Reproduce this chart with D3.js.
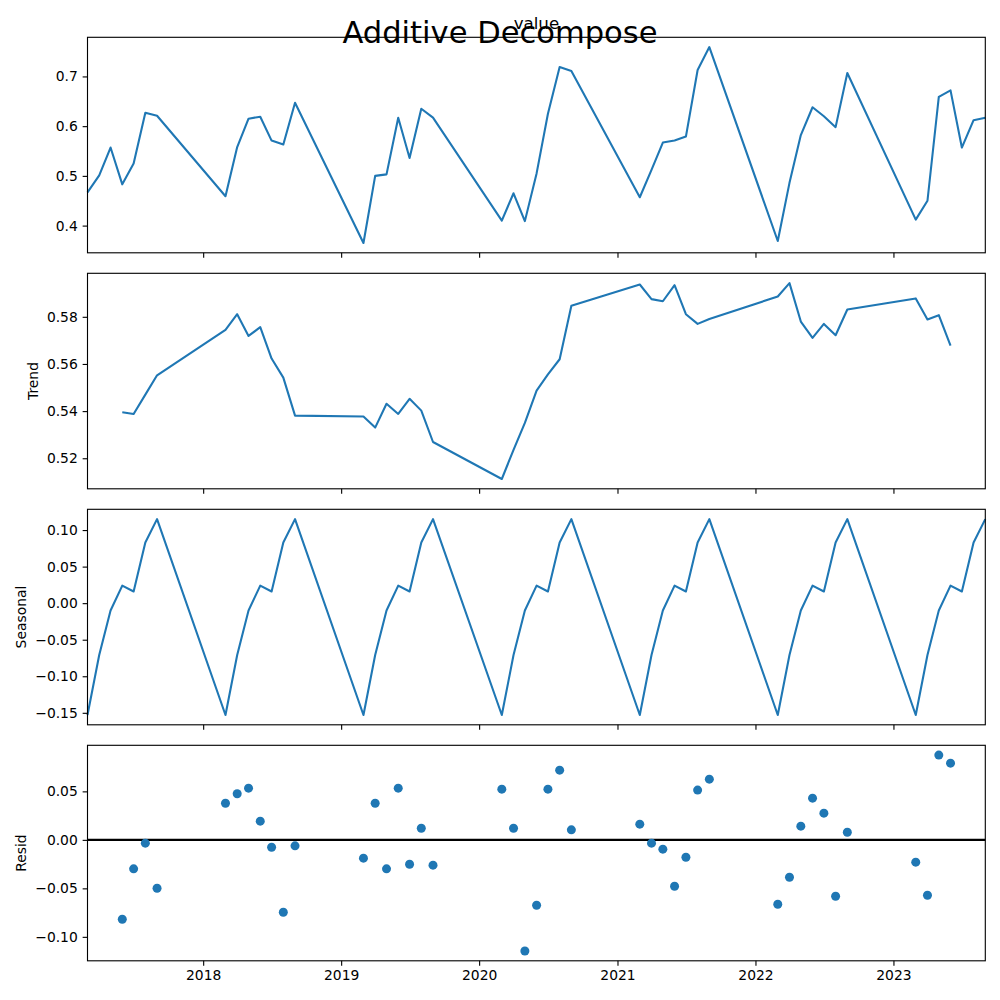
<!DOCTYPE html>
<html>
<head>
<meta charset="utf-8">
<script src="https://cdn.jsdelivr.net/npm/d3@7"></script>
<style>
  body { margin: 0; background: #fff; }
  svg { display: block; font-family: "DejaVu Sans", sans-serif; }
</style>
</head>
<body>
<div id="vizContainer"></div>
<script>
// Monthly samples, March to September of each year
const years = [2017, 2018, 2019, 2020, 2021, 2022, 2023];
const months = [2, 3, 4, 5, 6, 7, 8]; // Mar..Sep (0-based)

// Observed series ("value"), one row per year, Mar..Sep
const observed = [
  0.467, 0.501, 0.557, 0.483, 0.525, 0.627, 0.621,
  0.459, 0.558, 0.615, 0.619, 0.571, 0.563, 0.647,
  0.365, 0.500, 0.503, 0.617, 0.536, 0.635, 0.617,
  0.410, 0.465, 0.409, 0.505, 0.625, 0.719, 0.711,
  0.457, 0.512, 0.567, 0.571, 0.579, 0.713, 0.759,
  0.369, 0.486, 0.582, 0.638, 0.620, 0.598, 0.707,
  0.412, 0.450, 0.659, 0.672, 0.557, 0.612, 0.617
];

// Trend (centered moving average, undefined at the ends)
const trend = [
  null,   null,   null,   0.5395, 0.5388, 0.5470, 0.5552,
  0.5745, 0.5811, 0.5719, 0.5756, 0.5623, 0.5542, 0.5381,
  0.5377, 0.5330, 0.5431, 0.5388, 0.5452, 0.5402, 0.5269,
  0.5112, 0.5236, 0.5350, 0.5487, 0.5556, 0.5620, 0.5847,
  0.5937, 0.5875, 0.5866, 0.5934, 0.5811, 0.5770, 0.5791,
  0.5886, 0.5943, 0.5780, 0.5711, 0.5770, 0.5722, 0.5831,
  0.5878, 0.5789, 0.5807, 0.5678, null,   null,   null
];

// Seasonal component by month (Mar..Sep), same every year
const seasonalByMonth = [-0.153, -0.071, -0.010, 0.024, 0.016, 0.083, 0.115];

// Residuals
const resid = [
  null,    null,    null,    -0.0819, -0.0299, -0.0034, -0.0499,
  0.0378,  0.0475,  0.0533,  0.0193,  -0.0076, -0.0746, -0.0062,
  -0.0189, 0.0378,  -0.0299, 0.0533,  -0.0251, 0.0120,  -0.0261,
  0.0523,  0.0120,  -0.1146, -0.0674, 0.0523,  0.0719,  0.0103,
  0.0162,  -0.0034, -0.0096, -0.0478, -0.0179, 0.0513,  0.0626,
  -0.0664, -0.0385, 0.0141,  0.0430,  0.0275,  -0.0581, 0.0079,
  -0.0230, -0.0571, 0.0874,  0.0791,  null,    null,    null
];

// Y tick labels per panel
const observedTicks = [0.4, 0.5, 0.6, 0.7];
const trendTicks = [0.52, 0.54, 0.56, 0.58];
const seasonalTicks = [-0.15, -0.10, -0.05, 0.00, 0.05, 0.10];
const residTicks = [-0.10, -0.05, 0.00, 0.05];

const dates = years.flatMap(y => months.map(m => new Date(Date.UTC(y, m, 1))));
const seasonal = years.flatMap(() => seasonalByMonth);

const W = 1000, H = 1000;
const left = 87.5, right = 985.3, panelH = 215.5;
const tops = [37.3, 273.3, 509.3, 745.3];
const blue = '#1f77b4';
const pt = 100 / 72;

const svg = d3.select('#vizContainer').append('svg')
  .attr('width', W).attr('height', H);

const x = d3.scaleUtc().domain(d3.extent(dates)).range([left, right]);

const panels = [
  {values: observed, ticks: observedTicks, fmt: d3.format('.1f'), label: null, kind: 'line'},
  {values: trend, ticks: trendTicks, fmt: d3.format('.2f'), label: 'Trend', kind: 'line'},
  {values: seasonal, ticks: seasonalTicks, fmt: d3.format('.2f'), label: 'Seasonal', kind: 'line'},
  {values: resid, ticks: residTicks, fmt: d3.format('.2f'), label: 'Resid', kind: 'dots'}
];

panels.forEach((p, i) => {
  const top = tops[i], bottom = top + panelH;
  const pts = dates.map((d, k) => ({d, v: p.values[k]})).filter(e => e.v != null);
  const [lo, hi] = d3.extent(pts, e => e.v);
  const pad = (hi - lo) * 0.05;
  const y = d3.scaleLinear().domain([lo - pad, hi + pad]).range([bottom, top]);

  const g = svg.append('g');

  if (p.kind === 'dots') {
    // zero reference line behind the markers
    g.append('line')
      .attr('x1', left).attr('x2', right)
      .attr('y1', y(0)).attr('y2', y(0))
      .attr('stroke', '#000').attr('stroke-width', 1.5 * pt);
    g.selectAll('circle').data(pts).enter().append('circle')
      .attr('cx', e => x(e.d)).attr('cy', e => y(e.v))
      .attr('r', 4.5)
      .attr('fill', blue);
  } else {
    g.append('path')
      .datum(pts)
      .attr('fill', 'none')
      .attr('stroke', blue)
      .attr('stroke-width', 1.5 * pt)
      .attr('stroke-linejoin', 'round')
      .attr('d', d3.line().x(e => x(e.d)).y(e => y(e.v)));
  }

  // axes
  const xAxis = d3.axisBottom(x)
    .ticks(d3.utcYear.every(1))
    .tickSize(3.5 * pt).tickPadding(3.5 * pt)
    .tickFormat(i === 3 ? d3.utcFormat('%Y') : () => '');
  const xg = g.append('g').attr('transform', `translate(0,${bottom})`).call(xAxis);

  const yAxis = d3.axisLeft(y)
    .tickValues(p.ticks)
    .tickSize(3.5 * pt).tickPadding(3.5 * pt)
    .tickFormat(p.fmt);
  const yg = g.append('g').attr('transform', `translate(${left},0)`).call(yAxis);

  [xg, yg].forEach(a => {
    a.select('.domain').remove();
    a.selectAll('line').attr('stroke', '#000').attr('stroke-width', 0.8 * pt);
    a.selectAll('text').attr('font-size', 10 * pt).attr('fill', '#000')
      .attr('font-family', '"DejaVu Sans", sans-serif');
  });

  // frame
  g.append('rect')
    .attr('x', left).attr('y', top)
    .attr('width', right - left).attr('height', panelH)
    .attr('fill', 'none').attr('stroke', '#000').attr('stroke-width', 0.8 * pt);

  if (p.label) {
    let minX = Infinity;
    yg.selectAll('text').each(function() {
      const b = this.getBBox();
      minX = Math.min(minX, left + b.x);
    });
    const lx = minX - 4 * pt - 3.3;
    g.append('text')
      .attr('transform', `translate(${lx},${top + panelH / 2}) rotate(-90)`)
      .attr('text-anchor', 'middle')
      .attr('font-size', 10 * pt)
      .text(p.label);
  }

  if (i === 0) {
    g.append('text')
      .attr('x', (left + right) / 2).attr('y', top - 8.3)
      .attr('text-anchor', 'middle')
      .attr('font-size', 12 * pt)
      .text('value');
  }
});

svg.append('text')
  .attr('x', W / 2).attr('y', 43)
  .attr('text-anchor', 'middle')
  .attr('font-size', 22 * pt)
  .text('Additive Decompose');
</script>
</body>
</html>
